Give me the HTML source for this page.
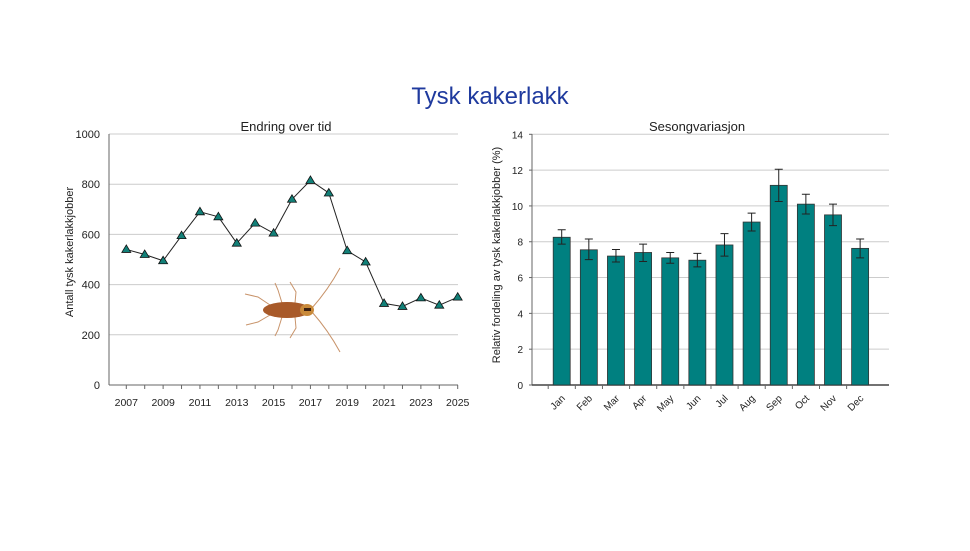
<!DOCTYPE html>
<html><head><meta charset="utf-8"><style>
body{margin:0;background:#fff;font-family:"Liberation Sans",sans-serif}
svg text{font-family:"Liberation Sans",sans-serif}
</style></head><body>
<svg width="970" height="546" viewBox="0 0 970 546" xmlns="http://www.w3.org/2000/svg">
<text x="490" y="104" text-anchor="middle" font-size="24" fill="#1f3a9e">Tysk kakerlakk</text>
<g id="left"></g>
<g id="bug">
 <g stroke="#c8936a" stroke-width="1" fill="none">
  <path d="M270 305 L258 297 L245 294"/><path d="M270 315 L258 322 L246 325"/>
  <path d="M282 303 L278 290 L275 283"/><path d="M282 317 L278 330 L275 336"/>
  <path d="M295 303 L296 292 L290 282"/><path d="M295 317 L296 328 L290 338"/>
  <path d="M312 308 Q328 290 340 268"/><path d="M312 312 Q328 330 340 352"/>
 </g>
 <ellipse cx="287" cy="310" rx="24" ry="8" fill="#a85a2a"/>
 <ellipse cx="307" cy="310" rx="7" ry="6" fill="#c98a3a"/>
 <rect x="304" y="308" width="7" height="3" fill="#3a1f10"/>
</g>
<g id="right"></g>
</svg>
<script>
const years=[2007,2008,2009,2010,2011,2012,2013,2014,2015,2016,2017,2018,2019,2020,2021,2022,2023,2024,2025];
const counts=[540,520,495,595,690,670,565,645,605,740,815,765,535,490,325,313,347,318,350];
const leftTicks=[0,200,400,600,800,1000];
const months=["Jan","Feb","Mar","Apr","May","Jun","Jul","Aug","Sep","Oct","Nov","Dec"];
const share=[8.25,7.55,7.2,7.4,7.1,6.97,7.82,9.1,11.15,10.1,9.5,7.63];
const errLow=[0.38,0.55,0.33,0.5,0.3,0.37,0.62,0.5,0.9,0.55,0.6,0.53];
const errHigh=[0.42,0.6,0.37,0.47,0.3,0.38,0.63,0.5,0.9,0.55,0.6,0.52];
const rightTicks=[0,2,4,6,8,10,12,14];
const NS="http://www.w3.org/2000/svg";
function mk(p,tag,a){const e=document.createElementNS(NS,tag);for(const k in a)e.setAttribute(k,a[k]);p.appendChild(e);return e;}
const L=document.getElementById('left');
const lx=y=>126.3+(y-2007)*(331.4/18);
const ly=v=>385-v*(251/1000);
mk(L,'text',{x:286,y:131,'text-anchor':'middle','font-size':13,fill:'#222'}).textContent='Endring over tid';
leftTicks.forEach(t=>{
 if(t>0){const g=mk(L,'line',{x1:109,x2:458,y1:ly(t),y2:ly(t),stroke:'#ccc'});
 
 }
 const tx=mk(L,'text',{x:100,y:ly(t)+4,'text-anchor':'end','font-size':11,fill:'#222'});tx.textContent=t;
 
 
});
mk(L,'line',{x1:109,x2:109,y1:134,y2:385,stroke:'#666'});
mk(L,'line',{x1:109,x2:458,y1:385,y2:385,stroke:'#666'});
years.forEach((y,i)=>{if(i%2==0){const t=mk(L,'text',{x:lx(y),y:406,'text-anchor':'middle','font-size':10.5,fill:'#222'});t.textContent=y;
 
 }
 mk(L,'line',{x1:lx(y),x2:lx(y),y1:385,y2:389,stroke:'#666'});});
const yt=mk(L,'text',{transform:'translate(73,252) rotate(-90)','text-anchor':'middle','font-size':11,fill:'#222'});yt.textContent='Antall tysk kakerlakkjobber';


const ln=mk(L,'polyline',{points:years.map((y,i)=>lx(y)+','+ly(counts[i])).join(' '),fill:'none',stroke:'#222','stroke-width':1});


years.forEach((y,i)=>{const x=lx(y),v=ly(counts[i]);
 const p=mk(L,'polygon',{points:`${x},${v-4.5} ${x-4.5},${v+3} ${x+4.5},${v+3}`,fill:'#128078',stroke:'#111','stroke-width':0.8});
 
 });
const R=document.getElementById('right');
const rx=i=>561.7+i*27.13;
const ry=v=>385-v*(250.7/14);
mk(R,'text',{x:697,y:131,'text-anchor':'middle','font-size':13,fill:'#222'}).textContent='Sesongvariasjon';
rightTicks.forEach(t=>{
 if(t>0){const g=mk(R,'line',{x1:532,x2:889,y1:ry(t),y2:ry(t),stroke:'#ccc'});
 
 }
 mk(R,'line',{x1:529,x2:532,y1:ry(t),y2:ry(t),stroke:'#666'});
 const tx=mk(R,'text',{x:523,y:ry(t)+4,'text-anchor':'end','font-size':10,fill:'#222'});tx.textContent=t;
 
 
});
mk(R,'line',{x1:532,x2:532,y1:134,y2:385,stroke:'#666'});
mk(R,'line',{x1:532,x2:889,y1:385,y2:385,stroke:'#444','stroke-width':1.5});
const yt2=mk(R,'text',{transform:'translate(500,255) rotate(-90)','text-anchor':'middle','font-size':11,fill:'#222'});yt2.textContent='Relativ fordeling av tysk kakerlakkjobber (%)';


months.forEach((m,i)=>{const x=rx(i),v=ry(share[i]);
 const b=mk(R,'rect',{x:x-8.5,y:v,width:17,height:385-v,fill:'#008080',stroke:'#333','stroke-width':0.8});
 
 
 const lo=ry(share[i]-errLow[i]),hi=ry(share[i]+errHigh[i]);
 const e=mk(R,'path',{d:`M${x} ${lo}V${hi}M${x-4} ${lo}H${x+4}M${x-4} ${hi}H${x+4}`,stroke:'#222','stroke-width':1,fill:'none'});
 
 
 mk(R,'line',{x1:x-13.5,x2:x-13.5,y1:385,y2:389,stroke:'#666'});
 const t=mk(R,'text',{transform:`translate(${x+4},399) rotate(-45)`,'text-anchor':'end','font-size':10,fill:'#222'});t.textContent=m;
 
 
});
</script>
</body></html>
